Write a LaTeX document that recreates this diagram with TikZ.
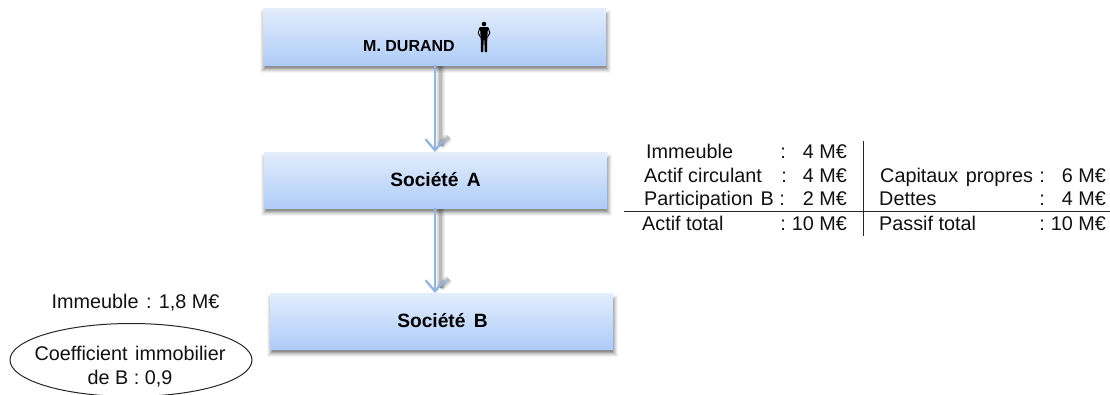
\documentclass[tikz,border=0pt]{standalone}
\usepackage{fontspec}
\setmainfont{Liberation Sans}
\usetikzlibrary{arrows.meta,shapes.geometric}
\definecolor{boxtop}{HTML}{E3EDFC}
\definecolor{boxbot}{HTML}{AECCF8}
\definecolor{arrowblue}{HTML}{92B6E4}
\definecolor{txt}{HTML}{111111}
\tikzset{
  x=1pt,y=-1pt,
  boxnode/.style={anchor=north west,inner sep=0pt,outer sep=0pt,minimum width=343pt,minimum height=57pt,
    top color=boxtop,bottom color=boxbot,draw=none},
  lab/.style={font=\fontsize{19.8}{23}\selectfont,text=txt,inner sep=0pt},
  lw/.style={lab,anchor=base west},
  le/.style={lab,anchor=base east},
  boxlab/.style={font=\fontsize{19.2}{23}\selectfont\bfseries,text=black,inner sep=0pt,anchor=base},
  flow/.style={draw=arrowblue,line width=2.3pt,-{Straight Barb[length=11pt,width=19pt,line width=2.3pt]}},
  rule/.style={draw=black!85,line width=1pt},
  person/.style={fill=black,draw=none}
}
\newcommand{\boxshadow}[4]{%
  \foreach \d/\o in {4.5/0.04,3.5/0.05,2.5/0.07,1.5/0.09,0.5/0.12,-0.5/0.15}{
    \fill[black,opacity=\o] (#1-\d,#2+6-\d) rectangle (#3+\d,#4+3+\d);
  }}
\newcommand{\lineshadow}[2]{%
  \foreach \w/\o in {9/0.05,7/0.06,5/0.08,3/0.10}{
    \draw[black,opacity=\o,line width=\w pt,line cap=butt] (#1) -- (#2);
  }}
\begin{document}
\begin{tikzpicture}
\useasboundingbox (0,0) rectangle (1110,394);
\clip (0,0) rectangle (1110,394);
\fill[white] (0,0) rectangle (1110,394);
% shadows
\boxshadow{264}{8}{606}{65}
\boxshadow{265}{152}{607}{208}
\boxshadow{271}{293}{613}{349}
% arrow shadows
\coordinate (s1a) at (440,65); \coordinate (s1b) at (440,146);
\coordinate (s1c) at (449,137); 
\coordinate (s2a) at (440,208); \coordinate (s2b) at (440,288);
\coordinate (s2c) at (449,279);
\lineshadow{s1a}{s1b}
\lineshadow{s1b}{s1c}
\lineshadow{s2a}{s2b}
\lineshadow{s2b}{s2c}
% boxes
\node[boxnode] (durand) at (263,8) {};
\node[boxnode,minimum height=56pt] (socA) at (264,152) {};
\node[boxnode,minimum height=56pt] (socB) at (270,293) {};
\draw[flow] (durand.south -| 435,65) -- (socA.north -| 435,152);
\draw[flow] (socA.south -| 435,208) -- (socB.north -| 435,293);
% box labels
\node[boxlab,font=\fontsize{16}{19}\selectfont\bfseries] (tdurand) at (409,51) {M. DURAND};
\node[boxlab] (tA) at (435.5,186) {Société\hspace{3pt} A};
\node[boxlab] (tB) at (442.5,327) {Société\hspace{3pt} B};
% person icon
\fill[person] (484,24) circle (2.3);
\fill[person] (480,27) -- (488,27) -- (487.3,38) -- (487,52) -- (484.8,52) -- (484.3,40) -- (483.7,40) -- (483.2,52) -- (481,52) -- (480.7,38) -- cycle;
\draw[black,line width=1pt] (480,27.5) -- (478.2,33) -- (480.7,37.5);
\draw[black,line width=1pt] (488,27.5) -- (489.8,33) -- (487.3,37.5);
% balance sheet text
\node[lw] (l1) at (646,158) {Immeuble};
\node[lab,anchor=base] (c1) at (783,158) {:};
\node[le] (v1) at (847,158) {4 M€};
\node[lw] (l2) at (644,182) {Actif circulant};
\node[lab,anchor=base] (c2) at (784,182) {:};
\node[le] (v2) at (847,182) {4 M€};
\node[lw] (l3) at (644,205) {Participation\hspace{2pt} B};
\node[lab,anchor=base] (c3) at (782,205) {:};
\node[le] (v3) at (847,205) {2 M€};
\node[lw] (l4) at (642,230) {Actif total};
\node[lab,anchor=base] (c4) at (783,230) {:};
\node[le] (v4) at (847,230) {10 M€};
\node[lw] (r2) at (880,182) {Capitaux\hspace{2pt} propres};
\node[lab,anchor=base] (d2) at (1042,182) {:};
\node[le] (w2) at (1106,182) {6 M€};
\node[lw] (r3) at (879,205) {Dettes};
\node[lab,anchor=base] (d3) at (1042,205) {:};
\node[le] (w3) at (1106,205) {4 M€};
\node[lw] (r4) at (879,230) {Passif total};
\node[lab,anchor=base] (d4) at (1042,230) {:};
\node[le] (w4) at (1106,230) {10 M€};
% rules
\coordinate (vt) at (863,141); \coordinate (vb) at (863,236);
\coordinate (hl) at (624,211); \coordinate (hr) at (1110,211);
\draw[rule] (vt) -- (vb);
\draw[rule] (hl) -- (hr);
% left part
\node[lab,anchor=base] (imm) at (135.5,308) {Immeuble\hspace{2pt} : 1,8 M€};
\node[ellipse,draw=black!85,line width=1pt,minimum width=242pt,minimum height=73pt,inner sep=0pt,lab] (coef) at (131,360) {};
\node[lab,anchor=base] (cf1) at (130,360) {Coefficient\hspace{2pt} immobilier};
\node[lab,anchor=base] (cf2) at (130,384) {de B : 0,9};
\end{tikzpicture}
\end{document}
